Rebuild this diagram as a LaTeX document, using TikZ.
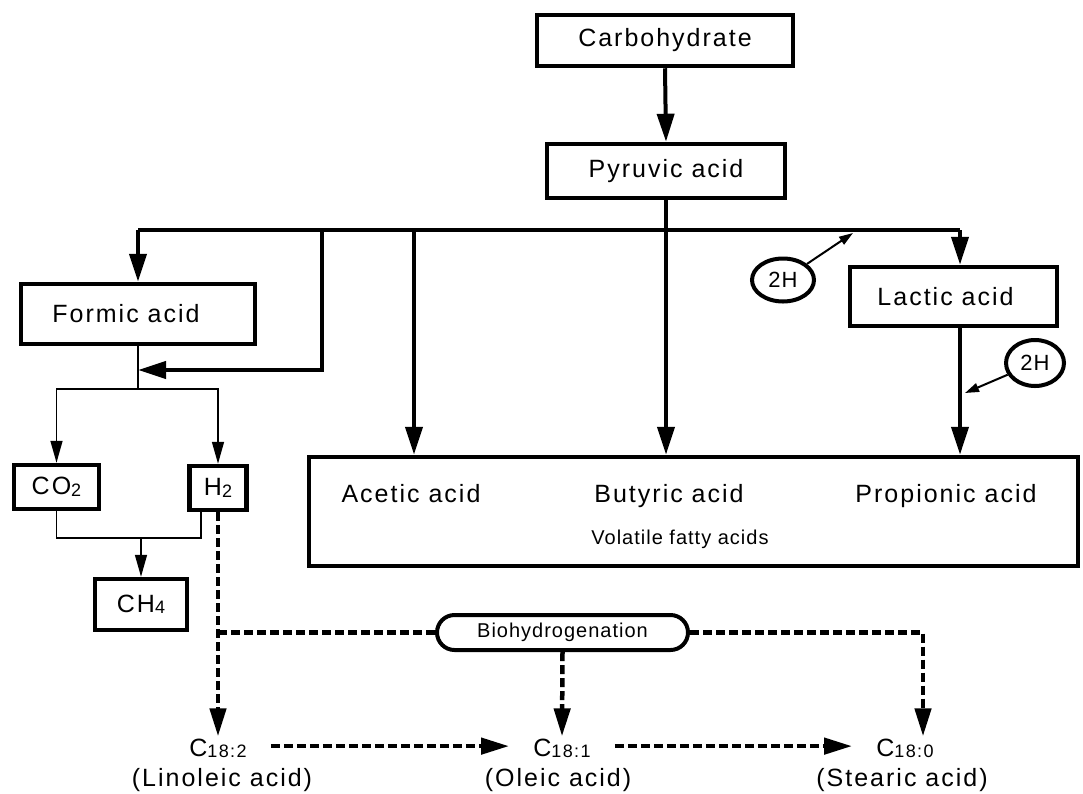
\documentclass[tikz,border=0pt]{standalone}
\usepackage{fontspec}
\setmainfont{Liberation Sans}
\newfontfamily\lab[LetterSpace=8]{Liberation Sans}
\newfontfamily\labs[LetterSpace=5]{Liberation Sans}
\usetikzlibrary{arrows.meta,shapes.geometric}
\newcommand{\sbs}[1]{\raisebox{-1.5pt}{\fontsize{18}{18}\selectfont #1}}
\begin{document}
\begin{tikzpicture}[x=1pt,y=-1pt,
  every node/.style={font=\fontsize{25}{28}\selectfont\lab},
  box/.style={draw,line width=4.5pt,inner sep=0pt},
  thk/.style={line width=4pt},
  arr/.style={thk,-{Triangle[length=28pt,width=17pt]}},
  thn/.style={line width=1.6pt},
  thnarr/.style={thn,-{Triangle[length=22pt,width=12pt]}},
  dsh/.style={line width=4.5pt,dash pattern=on 9pt off 4pt},
  dsharr/.style={dsh,-{Triangle[length=28pt,width=16pt]}},
  smarr/.style={line width=2pt,-{Triangle[length=14pt,width=9pt]}},
  twoh/.style={draw,ellipse,line width=4pt,inner sep=0pt,font=\fontsize{22}{24}\selectfont\labs},
  lbl/.style={inner sep=2pt,anchor=base}]
\useasboundingbox (0,0) rectangle (1083,793);
% boxes
\node[box,minimum width=256pt,minimum height=51pt] (carb) at (665,40.5) {Carbohydrate};
\node[box,minimum width=238pt,minimum height=54pt] (pyr) at (666,171) {Pyruvic acid};
\node[box,minimum width=234pt,minimum height=60pt] (formic) at (138,314) {Formic acid\kern24pt};
\node[box,minimum width=207pt,minimum height=59pt] (lactic) at (953.5,296.5) {Lactic acid\kern16pt};
\node[box,minimum width=85pt,minimum height=44pt] (co2) at (56.5,487) {CO\sbs{2}};
\node[box,minimum width=57pt,minimum height=44pt] (h2) at (218,488) {H\sbs{2}};
\node[box,minimum width=92pt,minimum height=51pt] (ch4) at (141,604.5) {CH\sbs{4}};
\node[box,minimum width=769pt,minimum height=109pt] (vfa) at (693.5,511.5) {};
\node[lbl] (acetic) at (411,502) {Acetic acid};
\node[lbl] (butyric) at (669,502) {Butyric acid};
\node[lbl] (propionic) at (946,502) {Propionic acid};
\node[lbl,font=\fontsize{20}{24}\selectfont\labs] (volatile) at (680,544) {Volatile fatty acids};
\node[draw,line width=4pt,rounded corners=17.5pt,minimum width=251pt,minimum height=35pt,inner sep=0pt,font=\fontsize{20}{24}\selectfont\labs] (bio) at (562.5,632.5) {Biohydrogenation};
\node[twoh,minimum width=62pt,minimum height=43pt] (e1) at (783,280) {2H};
\node[twoh,minimum width=58pt,minimum height=46pt] (e2) at (1035,363) {2H};
% fatty acids
\node[lbl] (c182) at (218,756) {C\sbs{18:2}};
\node[lbl] (lin) at (222,786) {(Linoleic acid)};
\node[lbl] (c181) at (562,756) {C\sbs{18:1}};
\node[lbl] (ole) at (558,786) {(Oleic acid)};
\node[lbl] (c180) at (905,756) {C\sbs{18:0}};
\node[lbl] (ste) at (902,786) {(Stearic acid)};
% coordinates
\coordinate (bL) at (138,230);
\coordinate (bF) at (322,230);
\coordinate (bA) at (414,230);
\coordinate (bR) at (960,230);
\coordinate (fj) at (138,370);
\coordinate (fs) at (138,389);
\coordinate (cj) at (141,538);
\coordinate (hb) at (201,512);
\coordinate (bE) at (923,632.5);
\coordinate (t1) at (853,233);
\coordinate (t2) at (965,393);
% main tree
\draw[arr] (carb.south) -- (pyr.north);
\draw[arr] (pyr.south) -- (pyr.south |- vfa.north);
\draw[thk] (bL) -- (bR);
\draw[arr] (bL) -- (formic.north);
\draw[arr] (bR) -- (bR |- lactic.north);
\draw[arr] (bR |- lactic.south) -- (bR |- vfa.north);
\draw[arr] (bA) -- (bA |- vfa.north);
\draw[arr] (bF) -- (bF |- fj) -- (fj);
% formic branch
\draw[thn] (formic.south) -- (fs);
\draw[thnarr] (fs) -| (co2.north);
\draw[thnarr] (fs) -| (h2.north);
\draw[thn] (co2.south) |- (hb |- cj) -- (hb);
\draw[thnarr] (cj) -- (ch4.north);
% 2H
\draw[smarr] (e1) -- (t1);
\draw[smarr] (e2) -- (t2);
% biohydrogenation
\draw[dsharr] (h2.south) -- (c182.north);
\draw[dsh] (h2.south |- bio.west) -- (bio.west);
\draw[dsharr] (bio.south) -- (c181.north);
\draw[dsharr] (bio.east) -- (bE) -- (bE |- c180.north);
\draw[dsharr,shorten <=22pt,shorten >=22pt] ([yshift=2pt]c182.east) -- ([yshift=2pt]c181.west);
\draw[dsharr,shorten <=22pt,shorten >=22pt] ([yshift=2pt]c181.east) -- ([yshift=2pt]c180.west);
\end{tikzpicture}
\end{document}
